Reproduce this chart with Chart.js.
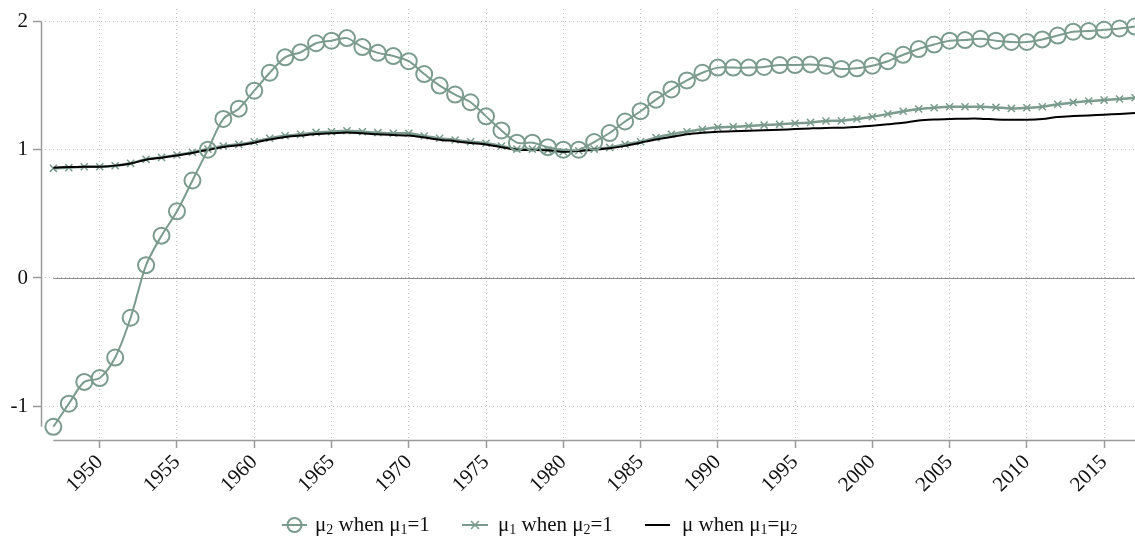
<!DOCTYPE html>
<html>
<head>
<meta charset="utf-8">
<script src="https://cdn.jsdelivr.net/npm/chart.js@4.4.1/dist/chart.umd.min.js"></script>
<style>
  html, body { margin: 0; padding: 0; background: #fff; }
  #wrap { width: 1135px; height: 556px; }
</style>
</head>
<body>
<div id="wrap"><canvas id="mu-chart" width="1135" height="556"></canvas></div>
<script>
const years = [1947, 1948, 1949, 1950, 1951, 1952, 1953, 1954, 1955, 1956,
               1957, 1958, 1959, 1960, 1961, 1962, 1963, 1964, 1965, 1966,
               1967, 1968, 1969, 1970, 1971, 1972, 1973, 1974, 1975, 1976,
               1977, 1978, 1979, 1980, 1981, 1982, 1983, 1984, 1985, 1986,
               1987, 1988, 1989, 1990, 1991, 1992, 1993, 1994, 1995, 1996,
               1997, 1998, 1999, 2000, 2001, 2002, 2003, 2004, 2005, 2006,
               2007, 2008, 2009, 2010, 2011, 2012, 2013, 2014, 2015, 2016,
               2017];

// mu2 when mu1 = 1
const mu2 = [-1.16, -0.98, -0.81, -0.78, -0.62, -0.31, 0.10, 0.33, 0.52, 0.76,
             1.00, 1.24, 1.32, 1.46, 1.60, 1.72, 1.76, 1.83, 1.85, 1.87,
             1.80, 1.755, 1.73, 1.69, 1.59, 1.50, 1.43, 1.37, 1.26, 1.15,
             1.055, 1.055, 1.02, 1.00, 1.00, 1.06, 1.13, 1.22, 1.30, 1.39,
             1.47, 1.54, 1.60, 1.64, 1.64, 1.64, 1.645, 1.66, 1.66, 1.665,
             1.655, 1.63, 1.635, 1.655, 1.69, 1.74, 1.785, 1.82, 1.85, 1.855,
             1.865, 1.85, 1.84, 1.84, 1.86, 1.89, 1.92, 1.925, 1.935, 1.945,
             1.96];

// mu1 when mu2 = 1
const mu1 = [0.855, 0.86, 0.867, 0.867, 0.875, 0.894, 0.925, 0.94, 0.959, 0.98,
             1.005, 1.029, 1.042, 1.062, 1.089, 1.109, 1.12, 1.135, 1.14, 1.148,
             1.14, 1.133, 1.128, 1.128, 1.107, 1.089, 1.076, 1.062, 1.05, 1.029,
             1.005, 1.005, 0.998, 0.984, 0.992, 1.005, 1.018, 1.042, 1.062, 1.094,
             1.12, 1.14, 1.159, 1.175, 1.179, 1.185, 1.192, 1.198, 1.206, 1.213,
             1.224, 1.226, 1.239, 1.257, 1.278, 1.30, 1.317, 1.327, 1.335, 1.335,
             1.335, 1.33, 1.322, 1.327, 1.335, 1.354, 1.369, 1.38, 1.387, 1.395,
             1.405];

// common mu when mu1 = mu2
const muEq = [0.86, 0.865, 0.868, 0.868, 0.876, 0.893, 0.922, 0.938, 0.955, 0.975,
              0.998, 1.022, 1.035, 1.055, 1.08, 1.10, 1.11, 1.122, 1.128, 1.135,
              1.128, 1.12, 1.115, 1.11, 1.095, 1.078, 1.066, 1.052, 1.04, 1.02,
              1.00, 0.998, 0.995, 0.985, 0.99, 1.00, 1.012, 1.03, 1.055, 1.08,
              1.10, 1.12, 1.132, 1.14, 1.143, 1.148, 1.151, 1.155, 1.161, 1.166,
              1.17, 1.171, 1.178, 1.187, 1.198, 1.21, 1.228, 1.236, 1.24, 1.242,
              1.242, 1.236, 1.234, 1.234, 1.24, 1.255, 1.262, 1.267, 1.273, 1.279,
              1.286];

const xTicks = [1950, 1955, 1960, 1965, 1970, 1975, 1980, 1985, 1990, 1995, 2000, 2005, 2010, 2015];
const yTicks = [-1, 0, 1, 2];

const green = '#7a9b8d';
const axisGray = '#9a9a9a';
const gridGray = '#c4c4c4';
const serif = "'Liberation Serif', 'DejaVu Serif', serif";

const pts = arr => years.map((y, i) => ({ x: y, y: arr[i] }));

// axis lines that stop at the data range, and the solid zero line
const axisLines = {
    id: 'axisLines',
    beforeDatasetsDraw(chart) {
        const { ctx, chartArea, scales } = chart;
        const xs = scales.x, ys = scales.y;
        ctx.save();
        ctx.lineWidth = 1;
        ctx.strokeStyle = '#8c8c8c';
        ctx.beginPath();
        const y0 = Math.round(ys.getPixelForValue(0)) + 0.5;
        ctx.moveTo(xs.getPixelForValue(years[0]), y0);
        ctx.lineTo(chartArea.right, y0);
        ctx.stroke();

        ctx.strokeStyle = axisGray;
        ctx.lineWidth = 1.5;
        ctx.beginPath();
        const ax = chartArea.left + 0.5;
        ctx.moveTo(ax, ys.getPixelForValue(2));
        ctx.lineTo(ax, ys.getPixelForValue(Math.min(...mu2)));
        const by = chartArea.bottom + 0.5;
        ctx.moveTo(xs.getPixelForValue(years[0]), by);
        ctx.lineTo(chartArea.right, by);
        ctx.stroke();
        ctx.restore();
    }
};

// legend row under the axis, with subscripted labels
function drawRich(ctx, parts, x, y) {
    parts.forEach(([txt, sub]) => {
        ctx.font = sub ? `14px ${serif}` : `21px ${serif}`;
        ctx.fillText(txt, x, sub ? y + 5 : y);
        x += ctx.measureText(txt).width;
    });
}

const legendRow = {
    id: 'legendRow',
    afterDraw(chart) {
        const { ctx } = chart;
        const y = 525;
        ctx.save();
        ctx.textBaseline = 'middle';
        ctx.fillStyle = '#111';

        ctx.strokeStyle = green;
        ctx.lineWidth = 2;
        ctx.beginPath();
        ctx.moveTo(282, y); ctx.lineTo(307, y);
        ctx.stroke();
        ctx.beginPath();
        ctx.arc(294.5, y, 7, 0, Math.PI * 2);
        ctx.stroke();
        drawRich(ctx, [['μ'], ['2', 1], [' when μ'], ['1', 1], ['=1']], 315, y);

        ctx.beginPath();
        ctx.moveTo(462, y); ctx.lineTo(488, y);
        ctx.stroke();
        ctx.lineWidth = 1.5;
        ctx.beginPath();
        ctx.moveTo(471, y - 4); ctx.lineTo(479, y + 4);
        ctx.moveTo(471, y + 4); ctx.lineTo(479, y - 4);
        ctx.stroke();
        drawRich(ctx, [['μ'], ['1', 1], [' when μ'], ['2', 1], ['=1']], 498, y);

        ctx.strokeStyle = '#000';
        ctx.lineWidth = 2;
        ctx.beginPath();
        ctx.moveTo(645, y); ctx.lineTo(670, y);
        ctx.stroke();
        drawRich(ctx, [['μ when μ'], ['1', 1], ['=μ'], ['2', 1]], 682, y);
        ctx.restore();
    }
};

new Chart(document.getElementById('mu-chart'), {
    type: 'line',
    data: {
        datasets: [{
            label: 'μ2 when μ1=1',
            data: pts(mu2),
            borderColor: green,
            backgroundColor: 'rgba(0,0,0,0)',
            borderWidth: 2,
            pointStyle: 'circle',
            pointRadius: 8,
            pointBorderWidth: 2,
            pointBorderColor: green,
            pointBackgroundColor: 'rgba(0,0,0,0)',
            tension: 0.3,
            clip: false
        }, {
            label: 'μ when μ1=μ2',
            data: pts(muEq),
            borderColor: '#000',
            borderWidth: 2,
            pointRadius: 0,
            tension: 0.3,
            clip: false
        }, {
            label: 'μ1 when μ2=1',
            data: pts(mu1),
            borderColor: green,
            borderWidth: 2.5,
            pointStyle: 'crossRot',
            pointRadius: 5,
            pointBorderWidth: 1.5,
            pointBorderColor: green,
            tension: 0.3,
            clip: false
        }]
    },
    options: {
        responsive: false,
        animation: false,
        events: [],
        layout: { autoPadding: false, padding: { top: 9, left: 0, right: 0, bottom: 0 } },
        scales: {
            x: {
                type: 'linear',
                min: 1946.2,
                max: 2017,
                afterBuildTicks: s => { s.ticks = xTicks.map(v => ({ value: v })); },
                afterFit: s => {
                    s.height = 116;
                    s.paddingLeft = 0;
                    s.paddingRight = 0;
                },
                border: { display: false, dash: [1, 3] },
                grid: {
                    color: gridGray,
                    tickColor: axisGray,
                    tickLength: 8,
                    tickWidth: 1.5,
                    tickBorderDash: []
                },
                ticks: {
                    autoSkip: false,
                    maxRotation: 45,
                    minRotation: 45,
                    padding: 2,
                    color: '#111',
                    font: { family: serif, size: 21 },
                    callback: v => String(v)
                }
            },
            y: {
                min: -1.263,
                max: 2.097,
                afterBuildTicks: s => { s.ticks = yTicks.map(v => ({ value: v })); },
                afterFit: s => {
                    s.width = 41;
                    s.paddingTop = 0;
                    s.paddingBottom = 0;
                },
                border: { display: false, dash: [1, 3] },
                grid: {
                    color: gridGray,
                    tickColor: axisGray,
                    tickLength: 8,
                    tickWidth: 1.5,
                    tickBorderDash: []
                },
                ticks: {
                    padding: 5,
                    color: '#111',
                    font: { family: serif, size: 21 },
                    callback: v => String(v)
                }
            }
        },
        plugins: {
            legend: { display: false },
            tooltip: { enabled: false }
        }
    },
    plugins: [axisLines, legendRow]
});
</script>
</body>
</html>
